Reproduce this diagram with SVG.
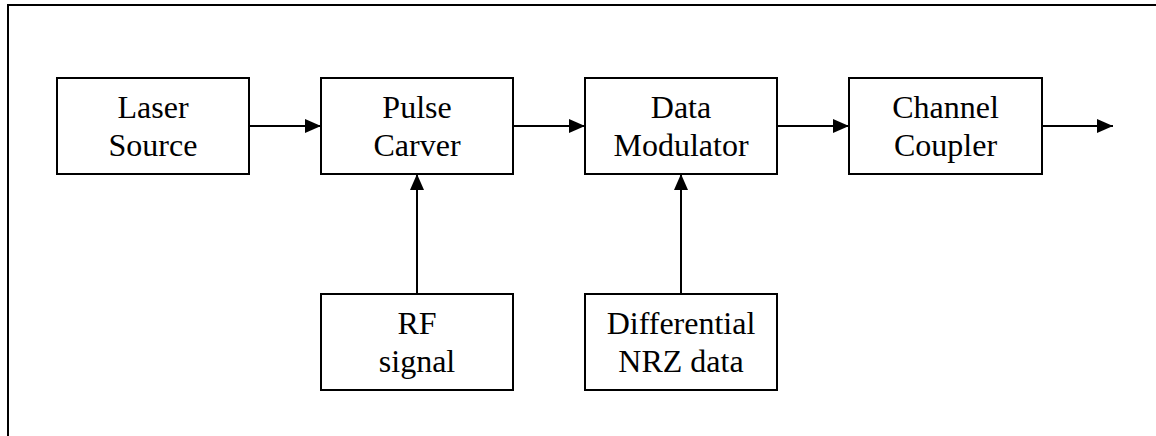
<svg xmlns="http://www.w3.org/2000/svg" width="1156" height="436" viewBox="0 0 1156 436">
<defs>
<style>
.box{fill:#fff;stroke:#000;stroke-width:2}
.lbl{font-family:"Liberation Serif","Times New Roman",serif;font-size:32px;fill:#000;text-anchor:middle}
.con{stroke:#000;stroke-width:2;fill:none;marker-end:url(#ah)}
</style>
<marker id="ah" viewBox="0 0 16 14" refX="16" refY="7" markerWidth="16" markerHeight="14" markerUnits="userSpaceOnUse" orient="auto">
<path d="M0,0 L16,7 L0,14 Z" fill="#000"/>
</marker>
</defs>
<rect width="1156" height="436" fill="#fff"/>
<path d="M8,436 L8,5 L1156,5" fill="none" stroke="#000" stroke-width="2"/>
<g id="connectors">
<line class="con" x1="249" y1="126" x2="321" y2="126"/>
<line class="con" x1="513" y1="126" x2="585" y2="126"/>
<line class="con" x1="777" y1="126" x2="849" y2="126"/>
<line class="con" x1="1042" y1="126" x2="1113" y2="126"/>
<line class="con" x1="417" y1="294" x2="417" y2="174"/>
<line class="con" x1="681" y1="294" x2="681" y2="174"/>
</g>
<g id="laser">
<rect class="box" x="57" y="78" width="192" height="96"/>
<text class="lbl" x="153" y="118">Laser</text>
<text class="lbl" x="153" y="156">Source</text>
</g>
<g id="pulse">
<rect class="box" x="321" y="78" width="192" height="96"/>
<text class="lbl" x="417" y="118">Pulse</text>
<text class="lbl" x="417" y="156">Carver</text>
</g>
<g id="datamod">
<rect class="box" x="585" y="78" width="192" height="96"/>
<text class="lbl" x="681" y="118">Data</text>
<text class="lbl" x="681" y="156">Modulator</text>
</g>
<g id="coupler">
<rect class="box" x="849" y="78" width="193" height="96"/>
<text class="lbl" x="945.5" y="118">Channel</text>
<text class="lbl" x="945.5" y="156">Coupler</text>
</g>
<g id="rf">
<rect class="box" x="321" y="294" width="192" height="96"/>
<text class="lbl" x="417" y="334">RF</text>
<text class="lbl" x="417" y="372">signal</text>
</g>
<g id="nrz">
<rect class="box" x="585" y="294" width="192" height="96"/>
<text class="lbl" x="681" y="334">Differential</text>
<text class="lbl" x="681" y="372">NRZ data</text>
</g>
</svg>
